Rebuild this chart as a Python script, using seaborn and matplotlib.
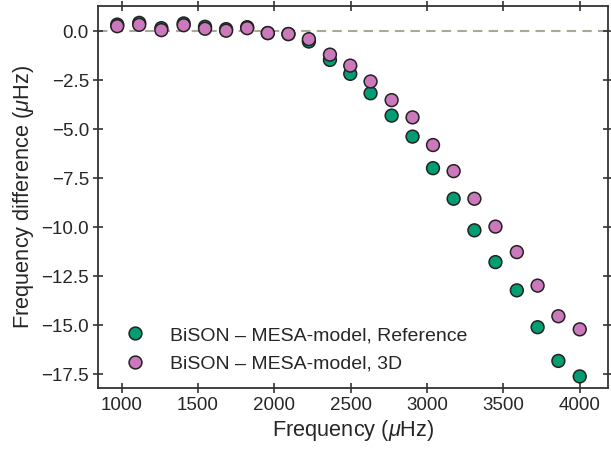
import numpy as np
import pandas as pd
import matplotlib
matplotlib.use("Agg")
import matplotlib.pyplot as plt
import seaborn as sns

# Radial-mode frequencies (muHz)
freq = [971, 1115, 1260, 1406, 1546, 1684, 1822, 1957, 2092, 2226, 2364, 2497,
        2630, 2768, 2905, 3039, 3174, 3310, 3448, 3588, 3724, 3860, 4000]
# Observed minus model frequency differences (muHz)
diff_reference = [0.33, 0.42, 0.15, 0.39, 0.22, 0.10, 0.20, -0.10, -0.15, -0.53,
                  -1.47, -2.18, -3.17, -4.31, -5.38, -6.99, -8.55, -10.16, -11.78,
                  -13.22, -15.10, -16.82, -17.61]
diff_3d = [0.25, 0.32, 0.05, 0.30, 0.12, 0.02, 0.15, -0.10, -0.15, -0.41,
           -1.20, -1.76, -2.57, -3.52, -4.40, -5.81, -7.14, -8.55, -9.97,
           -11.27, -12.98, -14.54, -15.21]
labels = ["BiSON \u2013 MESA-model, Reference", "BiSON \u2013 MESA-model, 3D"]

sns.set_theme(style="ticks")
plt.rcParams["font.family"] = ["Liberation Sans", "DejaVu Sans"]
plt.rcParams["mathtext.fontset"] = "custom"
plt.rcParams["mathtext.rm"] = "Liberation Sans"
plt.rcParams["mathtext.it"] = "Liberation Sans:italic"

df = pd.DataFrame({
    "freq": freq * 2,
    "diff": diff_reference + diff_3d,
    "model": [labels[0]] * len(freq) + [labels[1]] * len(freq),
})

fig = plt.figure(figsize=(6.11, 4.49), dpi=100)
ax = fig.add_axes([98 / 611, 61 / 449, 510 / 611, 382 / 449])

ax.axhline(0, color="#aca797", lw=1.5, ls=(0, (4.5, 3)), zorder=0)

sns.scatterplot(data=df, x="freq", y="diff", hue="model",
                palette=["#029e73", "#cc78bc"], s=85,
                edgecolor="#222222", linewidth=1.1, ax=ax, zorder=3)

ax.set_xlim(845, 4185)
ax.set_ylim(-18.2, 1.28)
ax.set_xticks([1000, 1500, 2000, 2500, 3000, 3500, 4000])
ax.set_yticks(np.arange(-17.5, 0.1, 2.5))
ax.set_xlabel(r"Frequency ($\mu$Hz)", fontsize=15.7, color="#262626", labelpad=3)
ax.set_ylabel(r"Frequency difference ($\mu$Hz)", fontsize=15.7, color="#262626",
              labelpad=4)

for side in ax.spines.values():
    side.set_color("#333333")
    side.set_linewidth(1.3)
ax.tick_params(axis="both", which="major", direction="inout", length=7,
               width=1.2, color="#333333", labelsize=13.5, labelcolor="#262626",
               top=True, right=True, pad=3)

leg = ax.legend(loc="lower left", bbox_to_anchor=(0.0, -0.005), frameon=False,
                fontsize=14, handletextpad=0.8, labelspacing=0.55,
                borderaxespad=0.5, markerscale=1.0)
for txt in leg.get_texts():
    txt.set_color("#262626")

fig.savefig("out.png", dpi=100)
